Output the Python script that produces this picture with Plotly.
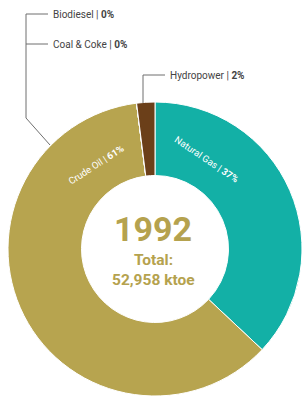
import plotly.graph_objects as go

# ---- data ----
sources = ["Natural Gas", "Crude Oil", "Coal & Coke", "Biodiesel", "Hydropower"]
shares = [37, 61, 0, 0, 2]
colors = ["#13B0A6", "#B7A44F", "#B7A44F", "#B7A44F", "#6B3F19"]
year = "1992"
total_label = "Total:"
total_text = "52,958 ktoe"

W, H = 302, 396

def px(x):
    return x / W

def py(y):
    return 1 - y / H

fig = go.Figure(go.Pie(
    labels=sources,
    values=shares,
    marker=dict(colors=colors, line=dict(color="white", width=1)),
    hole=0.5,
    sort=False,
    direction="clockwise",
    rotation=0,
    textinfo="none",
    hoverinfo="label+percent",
    domain=dict(x=[px(8), px(302)], y=[py(396), py(102)]),
    showlegend=False,
))

label_font = "Roboto, 'Liberation Sans Narrow', Arial, sans-serif"
gold = "#B5A24E"

annotations = [
    # in-slice labels
    dict(x=px(207), y=py(160), text=f"{sources[0]} | <b>{shares[0]}%</b>", textangle=34,
         font=dict(family=label_font, size=9.5, color="white")),
    dict(x=px(96), y=py(164), text=f"{sources[1]} | <b>{shares[1]}%</b>", textangle=-33,
         font=dict(family=label_font, size=9.5, color="white")),
    # outside labels
    dict(x=px(52), y=py(14), text=f"{sources[3]} | <b>{shares[3]}%</b>", xanchor="left",
         font=dict(family=label_font, size=10, color="#444")),
    dict(x=px(52), y=py(44), text=f"{sources[2]} | <b>{shares[2]}%</b>", xanchor="left",
         font=dict(family=label_font, size=10, color="#444")),
    dict(x=px(169), y=py(75), text=f"{sources[4]} | <b>{shares[4]}%</b>", xanchor="left",
         font=dict(family=label_font, size=10, color="#444")),
    # center
    dict(x=px(153), y=py(229), text=f"<b>{year}</b>",
         font=dict(family="Roboto, sans-serif", size=34, color=gold)),
    dict(x=px(153), y=py(259.5), text=f"<b>{total_label}</b>",
         font=dict(family="Roboto, sans-serif", size=15.5, color=gold)),
    dict(x=px(153), y=py(279.5), text=f"<b>{total_text}</b>",
         font=dict(family="Roboto, sans-serif", size=15.5, color=gold)),
]
for a in annotations:
    a.setdefault("xanchor", "center")
    a.update(xref="paper", yref="paper", showarrow=False, yanchor="middle", borderpad=0)

line = dict(color="#6f6f6f", width=1)
shapes = [
    dict(type="line", x0=px(26), y0=py(14), x1=px(48), y1=py(14), line=line),
    dict(type="line", x0=px(26), y0=py(44), x1=px(48), y1=py(44), line=line),
    dict(type="line", x0=px(26), y0=py(14), x1=px(26), y1=py(118), line=line),
    dict(type="line", x0=px(26), y0=py(118), x1=px(50), y1=py(145), line=line),
    dict(type="line", x0=px(143), y0=py(75), x1=px(165), y1=py(75), line=line),
    dict(type="line", x0=px(143), y0=py(75), x1=px(143), y1=py(103), line=line),
]
for s in shapes:
    s.update(xref="paper", yref="paper")

fig.update_layout(
    width=W, height=H,
    margin=dict(l=0, r=0, t=0, b=0),
    paper_bgcolor="white",
    plot_bgcolor="white",
    annotations=annotations,
    shapes=shapes,
)

fig.write_html(
    "out.html",
    config={"displayModeBar": False},
    post_script="document.body.style.margin='0';document.body.style.overflow='hidden';",
)
